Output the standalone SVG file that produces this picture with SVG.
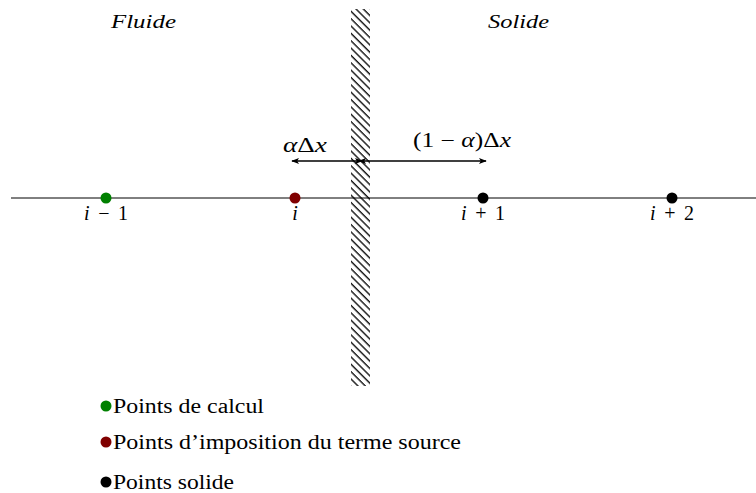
<svg xmlns="http://www.w3.org/2000/svg" width="756" height="493" viewBox="0 0 756 493">
<defs>
<pattern id="hatch" patternUnits="userSpaceOnUse" width="5.2" height="5.2" patternTransform="rotate(-45)">
<line x1="1" y1="0" x2="1" y2="5.2" stroke="#000" stroke-width="1.3"/>
</pattern>
<marker id="ah" viewBox="0 0 10 10" refX="9" refY="5" markerWidth="8" markerHeight="8" orient="auto-start-reverse" markerUnits="userSpaceOnUse">
<path d="M0,1 L10,5 L0,9 L2.5,5 Z" fill="#000"/>
</marker>
</defs>
<style>
text{font-family:"Liberation Serif","DejaVu Serif",serif;fill:#000}
.n{font-size:20px}
.i{font-style:italic}
.lab{font-size:19px;font-style:italic}
.leg{font-size:20px}
.dim{stroke:#000;stroke-width:1.6;fill:none}
</style>
<rect x="351" y="9" width="19" height="377" fill="url(#hatch)"/>
<g id="axis">
<line x1="11" y1="198" x2="756" y2="198" stroke="#000" stroke-width="1"/>
</g>
<g id="connectors">
<line class="dim" x1="292" y1="161" x2="362" y2="161" marker-start="url(#ah)" marker-end="url(#ah)"/>
<line class="dim" x1="359" y1="161" x2="486" y2="161" marker-start="url(#ah)" marker-end="url(#ah)"/>
</g>
<g id="p_im1"><circle cx="106" cy="198" r="5.5" fill="#008000"/><text x="84" y="220" class="n" textLength="44" lengthAdjust="spacing"><tspan class="i">i</tspan> − 1</text></g>
<g id="p_i"><circle cx="295" cy="198" r="5.5" fill="#800000"/><text x="295" y="220" text-anchor="middle" class="n i">i</text></g>
<g id="p_ip1"><circle cx="483" cy="198" r="5.5" fill="#000"/><text x="461" y="220" class="n" textLength="44" lengthAdjust="spacing"><tspan class="i">i</tspan> + 1</text></g>
<g id="p_ip2"><circle cx="672" cy="198" r="5.5" fill="#000"/><text x="650" y="220" class="n" textLength="44" lengthAdjust="spacing"><tspan class="i">i</tspan> + 2</text></g>
<g id="lab_adx"><text x="283" y="152" class="n" textLength="44" lengthAdjust="spacingAndGlyphs"><tspan class="i">α</tspan>Δ<tspan class="i">x</tspan></text></g>
<g id="lab_1adx"><text x="413" y="147" class="n" textLength="98" lengthAdjust="spacingAndGlyphs">(1 − <tspan class="i">α</tspan>)Δ<tspan class="i">x</tspan></text></g>
<g id="fluide"><text x="111" y="28" class="lab" textLength="65" lengthAdjust="spacingAndGlyphs">Fluide</text></g>
<g id="solide"><text x="488" y="28" class="lab" textLength="61" lengthAdjust="spacingAndGlyphs">Solide</text></g>
<g id="legend">
<circle cx="106" cy="406" r="5.5" fill="#008000"/><text x="113" y="413" class="leg" textLength="151" lengthAdjust="spacingAndGlyphs">Points de calcul</text>
<circle cx="106" cy="442" r="5.5" fill="#800000"/><text x="113" y="449" class="leg" textLength="348" lengthAdjust="spacingAndGlyphs">Points d’imposition du terme source</text>
<circle cx="106" cy="482" r="5.5" fill="#000"/><text x="113" y="489" class="leg" textLength="121" lengthAdjust="spacingAndGlyphs">Points solide</text>
</g>
</svg>
